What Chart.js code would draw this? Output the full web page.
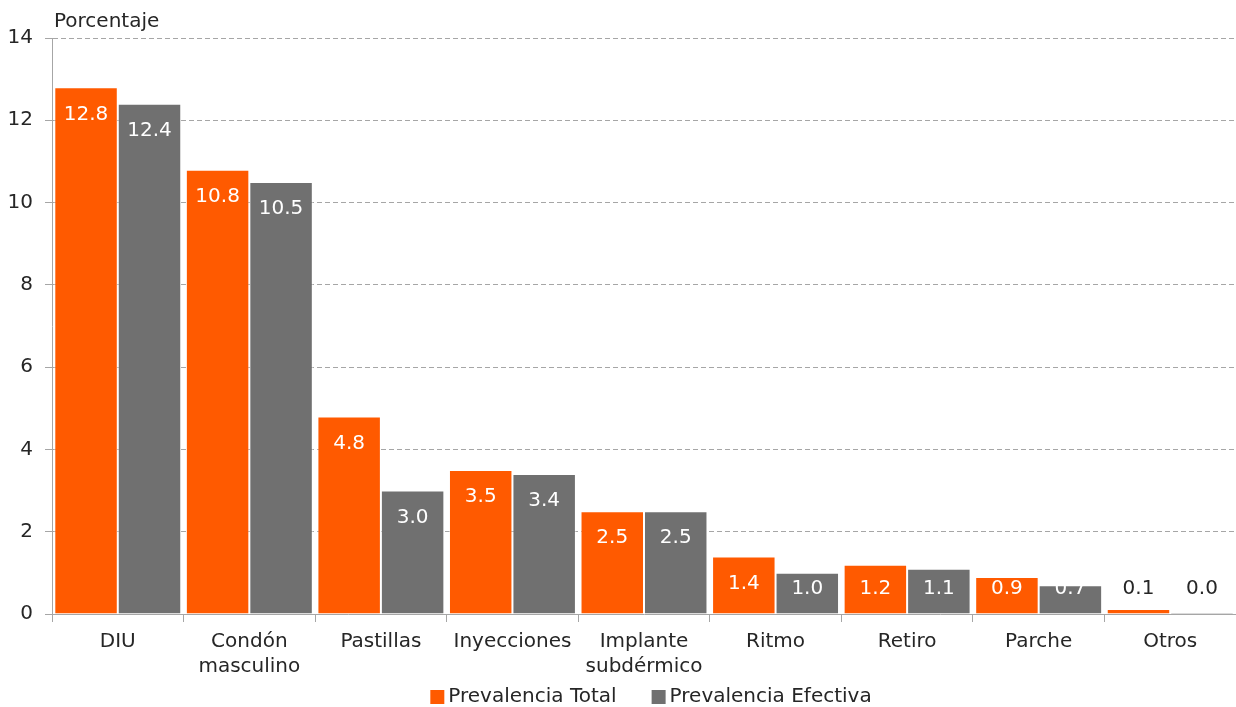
<!DOCTYPE html>
<html>
<head>
<meta charset="utf-8">
<script src="https://cdn.jsdelivr.net/npm/chart.js@4/dist/chart.umd.min.js"></script>
<style>
html,body{margin:0;padding:0;background:#fff;}
#wrap{position:relative;width:1236px;height:707px;}
</style>
</head>
<body>
<div id="wrap"><canvas id="c" width="1236" height="707"></canvas></div>
<script>
const categories = ["DIU", ["Condón","masculino"], "Pastillas", "Inyecciones", ["Implante","subdérmico"], "Ritmo", "Retiro", "Parche", "Otros"];
const prevalenciaTotal = [12.8, 10.8, 4.8, 3.5, 2.5, 1.4, 1.2, 0.9, 0.12];
const prevalenciaEfectiva = [12.4, 10.5, 3.0, 3.4, 2.5, 1.0, 1.1, 0.7, 0.04];
const yTicks = [0, 2, 4, 6, 8, 10, 12, 14];
const seriesNames = ["Prevalencia Total", "Prevalencia Efectiva"];
const seriesColors = ["#FF5A00", "#707070"];

const FONT = "'DejaVu Sans', sans-serif";
const FS = 20;
const TXT = "#262626";

const valueLabels = {
  id: "valueLabels",
  afterDatasetsDraw(chart) {
    const ctx = chart.ctx;
    ctx.save();
    ctx.font = FS + "px " + FONT;
    ctx.textAlign = "center";
    ctx.textBaseline = "middle";
    chart.data.datasets.forEach((ds, di) => {
      const meta = chart.getDatasetMeta(di);
      meta.data.forEach((el, i) => {
        const v = ds.data[i];
        const y = Math.min(el.y + 27, el.base - 25);
        ctx.fillStyle = v < 0.5 ? TXT : "#ffffff";
        ctx.fillText(v.toFixed(1), el.x, y);
      });
    });
    ctx.restore();
  }
};

const axisTitle = {
  id: "axisTitle",
  afterDraw(chart) {
    const ctx = chart.ctx;
    ctx.save();
    ctx.font = FS + "px " + FONT;
    ctx.fillStyle = TXT;
    ctx.textAlign = "left";
    ctx.textBaseline = "middle";
    ctx.fillText("Porcentaje", chart.chartArea.left + 2, 22);
    ctx.restore();
  }
};

const bottomLegend = {
  id: "bottomLegend",
  afterDraw(chart) {
    const ctx = chart.ctx;
    ctx.save();
    ctx.font = FS + "px " + FONT;
    ctx.textBaseline = "middle";
    ctx.textAlign = "left";
    const box = 14, gapText = 4, gapItem = 35;
    const items = chart.data.datasets.map(ds => ({ text: ds.label, color: ds.backgroundColor, w: ctx.measureText(ds.label).width }));
    let total = items.reduce((s, it) => s + box + gapText + it.w, 0) + gapItem * (items.length - 1);
    let x = (chart.chartArea.left + chart.chartArea.right) / 2 + 7 - total / 2;
    const y = 697;
    items.forEach(it => {
      ctx.fillStyle = it.color;
      ctx.fillRect(x, y - 7, box, box);
      ctx.fillStyle = TXT;
      ctx.fillText(it.text, x + box + gapText, y);
      x += box + gapText + it.w + gapItem;
    });
    ctx.restore();
  }
};

new Chart(document.getElementById("c"), {
  type: "bar",
  data: {
    labels: categories,
    datasets: [
      { label: seriesNames[0], data: prevalenciaTotal, backgroundColor: seriesColors[0], borderColor: "rgba(255,255,255,0.5)", borderWidth: 1, categoryPercentage: 0.965, barPercentage: 1.0 },
      { label: seriesNames[1], data: prevalenciaEfectiva, backgroundColor: seriesColors[1], borderColor: "rgba(255,255,255,0.5)", borderWidth: 1, categoryPercentage: 0.965, barPercentage: 1.0 }
    ]
  },
  options: {
    responsive: false,
    animation: false,
    layout: { padding: { top: 38, right: 0, left: 0, bottom: 21 } },
    plugins: {
      legend: { display: false },
      tooltip: { enabled: false }
    },
    scales: {
      x: {
        offset: true,
        grid: { display: true, offset: true, drawOnChartArea: false, color: "#a6a6a6", tickLength: 8, lineWidth: 1 },
        border: { color: "#a6a6a6", width: 1 },
        ticks: { font: { family: FONT, size: FS, lineHeight: 1.25 }, color: TXT, padding: 7, maxRotation: 0, autoSkip: false }
      },
      y: {
        min: 0, max: 14,
        afterBuildTicks(scale) { scale.ticks = yTicks.map(v => ({ value: v })); },
        afterFit(scale) { scale.width = 52; },
        grid: { color: "#a6a6a6", tickLength: 7, lineWidth: 1 },
        border: { color: "#a6a6a6", width: 1, dash: [5, 3] },
        ticks: { font: { family: FONT, size: FS }, color: TXT, padding: 12 }
      }
    }
  },
  plugins: [valueLabels, axisTitle, bottomLegend]
});
</script>
</body>
</html>
